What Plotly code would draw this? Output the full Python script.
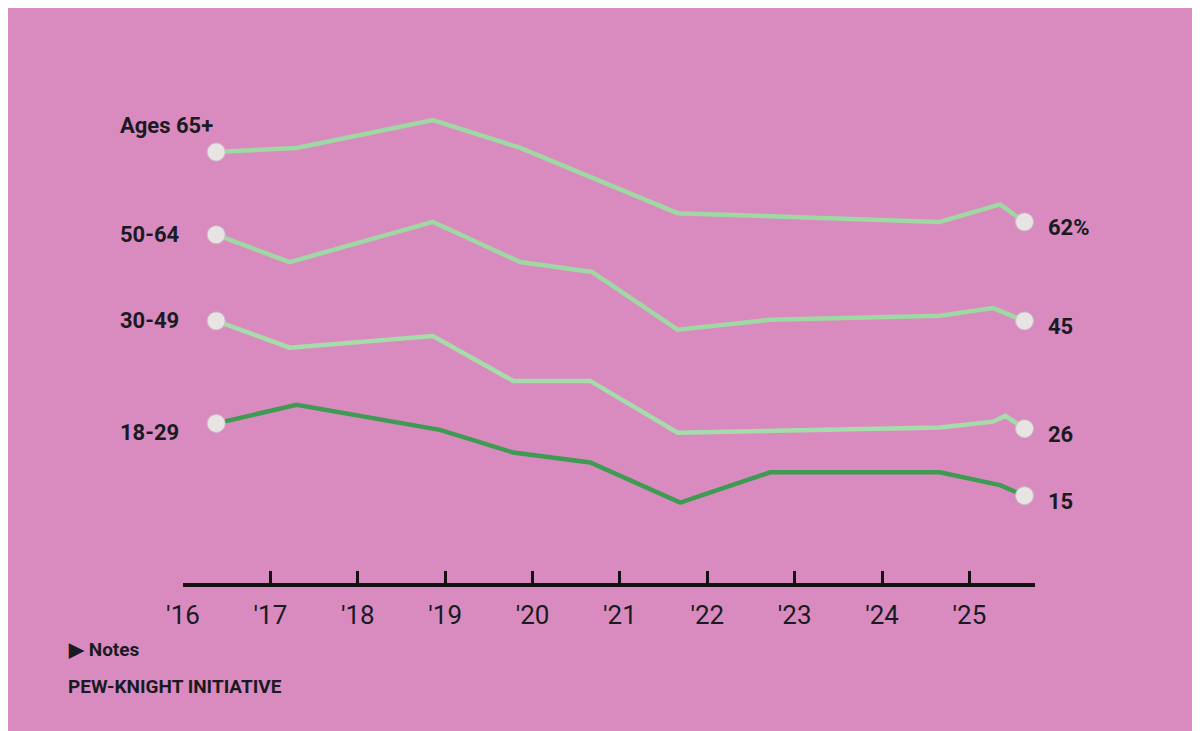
import plotly.graph_objects as go

tick_vals = list(range(2016, 2026))
tick_text = ["'16", "'17", "'18", "'19", "'20", "'21", "'22", "'23", "'24", "'25"]

x65 = [2016.38, 2017.30, 2018.86, 2019.86, 2021.66, 2024.66, 2025.35, 2025.63]
y65 = [74.0, 74.7, 79.5, 74.7, 63.5, 62.0, 65.0, 62.0]
x50 = [2016.38, 2017.22, 2018.86, 2019.86, 2020.68, 2021.66, 2022.72, 2024.66, 2025.27, 2025.63]
y50 = [59.8, 55.1, 62.0, 55.1, 53.4, 43.5, 45.2, 45.9, 47.2, 45.0]
x30 = [2016.38, 2017.22, 2018.86, 2019.78, 2020.66, 2021.66, 2024.66, 2025.27, 2025.41, 2025.63]
y30 = [45.0, 40.4, 42.4, 34.7, 34.7, 25.8, 26.7, 27.7, 28.7, 26.5]
x18 = [2016.38, 2017.30, 2018.94, 2019.78, 2020.66, 2021.69, 2022.72, 2024.66, 2025.35, 2025.63]
y18 = [27.4, 30.6, 26.3, 22.4, 20.7, 13.8, 19.0, 19.0, 16.8, 15.0]

series = [("Ages 65+", x65, y65, "62%", "#9fd8a2", 78.6),
          ("50-64", x50, y50, "45", "#9fd8a2", 59.8),
          ("30-49", x30, y30, "26", "#a6dcaa", 45.0),
          ("18-29", x18, y18, "15", "#3f9a52", 25.8)]

L, T, PW, PH = 175, 52, 852, 523
def px(xp): return (xp - 8 - L) / PW
def py(yp): return (T + PH - (yp - 8)) / PH

fig = go.Figure()
for name, xs, ys, end, col, ly in series:
    fig.add_trace(go.Scatter(x=xs, y=ys, mode="lines", line=dict(color=col, width=4.5),
                             hoverinfo="skip", showlegend=False))
    fig.add_trace(go.Scatter(x=[xs[0], xs[-1]], y=[ys[0], ys[-1]], mode="markers",
                             marker=dict(color="#e8e4e4", size=18, line=dict(color="#c9c0c4", width=1)),
                             cliponaxis=False, hoverinfo="skip", showlegend=False))
    fig.add_annotation(x=px(118), xref="paper", y=ly, yref="y", text="<b>%s</b>" % name,
                       showarrow=False, xanchor="left", font=dict(size=22, color="#1a1a22"))
    fig.add_annotation(x=px(1046), xref="paper", y=ys[-1] - 1, yref="y", text="<b>%s</b>" % end,
                       showarrow=False, xanchor="left", font=dict(size=22, color="#1a1a22"))

fig.add_annotation(x=px(66), xref="paper", y=py(4), yref="paper",
                   text="<i>% of U.S. adults who say they follow the news <b>all or most of the time</b>, by age</i>",
                   showarrow=False, xanchor="left", yanchor="bottom",
                   font=dict(size=24, color="#2a2030", family="DejaVu Serif"))
fig.add_annotation(x=px(66), y=py(663), xref="paper", yref="paper", text="<b>▶ Notes</b>",
                   showarrow=False, xanchor="left", font=dict(size=19, color="#1a1a22"))
fig.add_annotation(x=px(66), y=py(700), xref="paper", yref="paper",
                   text="<b>PEW-KNIGHT INITIATIVE</b>", showarrow=False, xanchor="left",
                   font=dict(size=19, color="#1a1a22"))

fig.update_layout(
    width=1200, height=731,
    margin=dict(l=L, r=1200 - L - PW, t=T, b=731 - T - PH),
    paper_bgcolor="#d98bc0", plot_bgcolor="#d98bc0",
    font=dict(family="Roboto", color="#1a1a22"),
    xaxis=dict(range=[2016, 2025.75], tickvals=tick_vals, ticktext=tick_text,
               showgrid=False, zeroline=False, showline=True, linecolor="#111", linewidth=4,
               ticks="inside", ticklen=12, tickwidth=3, tickcolor="#111",
               tickfont=dict(size=26, color="#1a1a22"), ticklabelstandoff=6),
    yaxis=dict(range=[0, 89.8], visible=False),
)
fig.write_html("out.html")
